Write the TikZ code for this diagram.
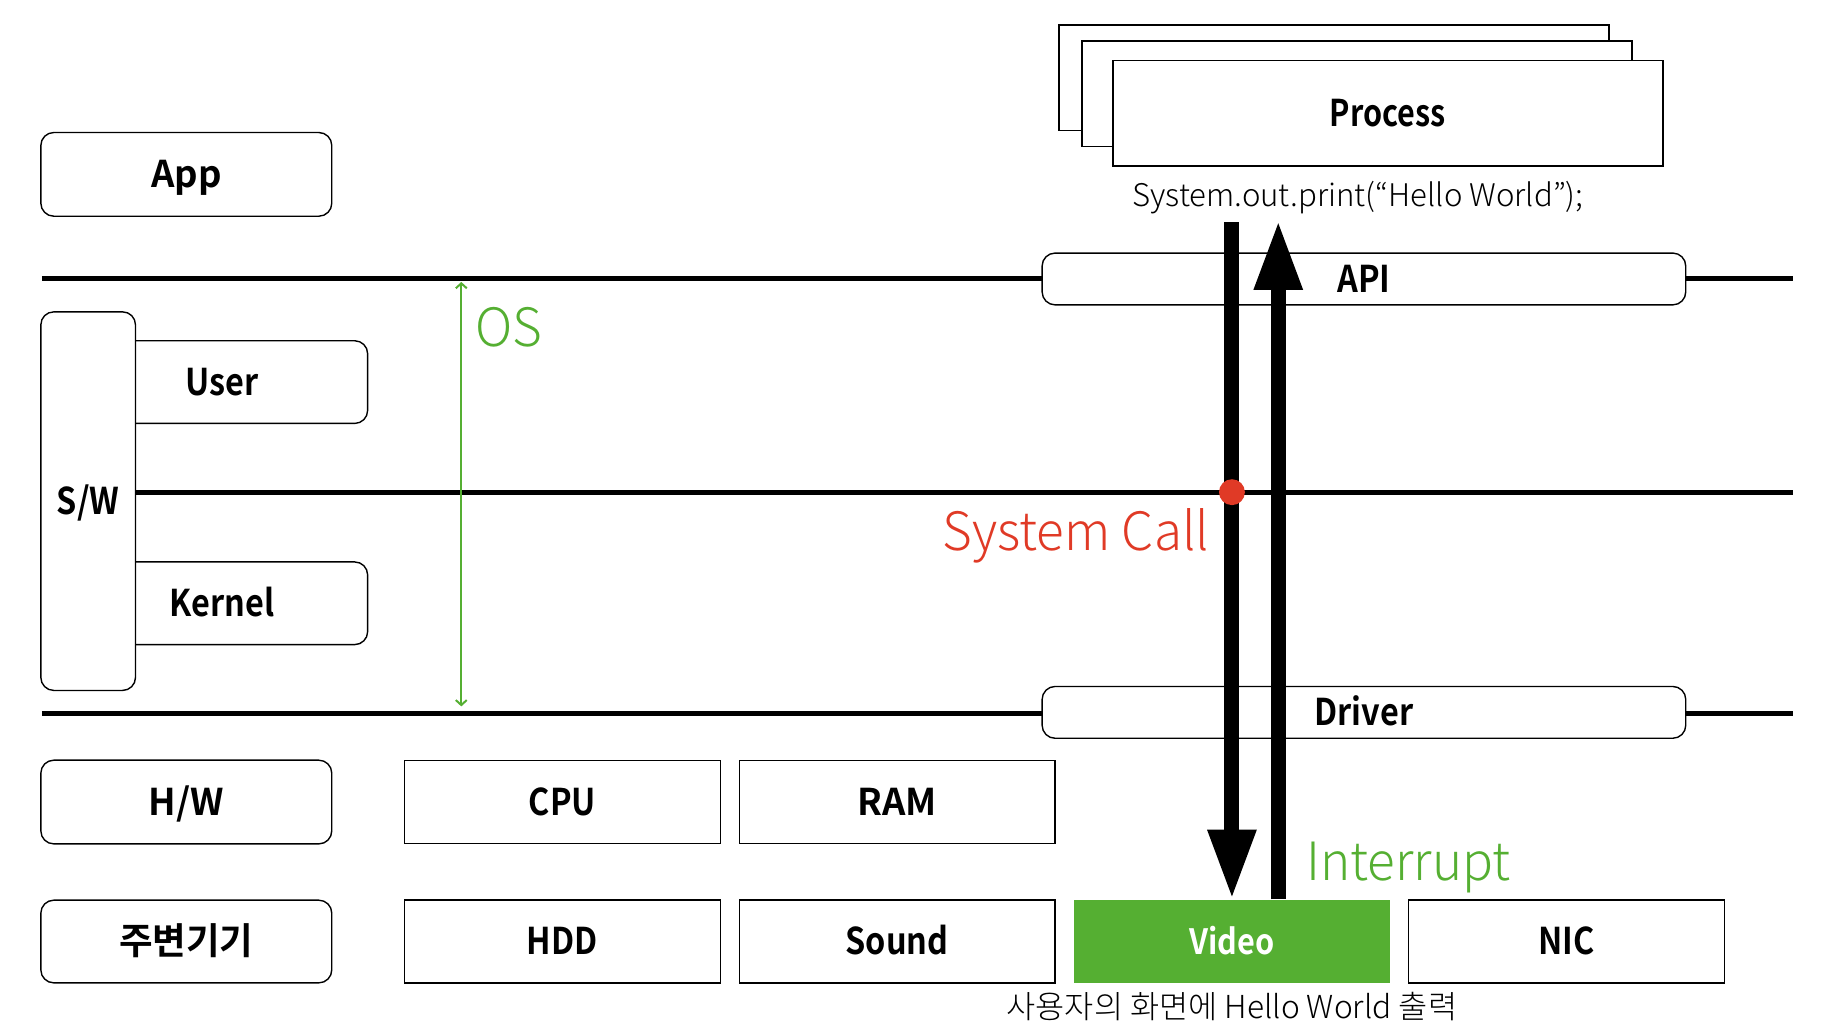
\documentclass[tikz,border=0pt]{standalone}
\usepackage{fontspec}
\setmainfont{Noto Sans CJK KR}
\newfontfamily\lbl{Noto Sans CJK KR Bold}[FakeStretch=0.88]
\newfontfamily\lblw{Noto Sans CJK KR Bold}[FakeStretch=0.99]
\newfontfamily\lbln{Noto Sans CJK KR Bold}[FakeStretch=0.83]
\IfFontExistsTF{Noto Sans CJK KR Light}{%
  \newfontfamily\thinf{Noto Sans CJK KR Light}[FakeStretch=0.97]%
  \newfontfamily\smallf{Noto Sans CJK KR Light}%
}{%
  \newfontfamily\thinf{Noto Sans CJK KR}[FakeStretch=0.93]%
  \newfontfamily\smallf{Noto Sans CJK KR}%
}
\usetikzlibrary{arrows.meta}
\definecolor{vgreen}{RGB}{85,175,50}
\definecolor{scred}{RGB}{224,58,38}
\begin{document}
\begin{tikzpicture}[x=1pt,y=-1pt,
  lblfont/.style={font=\lbl\fontsize{37}{40}\selectfont,text height=27pt,text depth=0pt},
  wide/.style={font=\lblw\fontsize{37}{40}\selectfont},
  narrow/.style={font=\lbln\fontsize{37}{40}\selectfont},
  rbox/.style={draw=black,line width=1.4pt,fill=white,rounded corners=13pt,inner sep=0pt,lblfont},
  sbox/.style={draw=black,line width=1.4pt,fill=white,inner sep=0pt,lblfont,minimum width=317pt,minimum height=83pt},
  pbox/.style={draw=black,line width=1.4pt,fill=white,inner sep=0pt,minimum width=552pt,minimum height=106pt,lblfont},
  layer/.style={line width=5pt},
  bigthin/.style={font=\thinf\fontsize{53}{60}\selectfont,inner sep=0pt},
  smallthin/.style={font=\smallf\fontsize{31.3}{36}\selectfont,inner sep=0pt},
  shaft/.style={line width=15pt},
]
\useasboundingbox (0,0) rectangle (1838.8,1039.8);

% layer lines (top and bottom)
\coordinate (l1a) at (42,280);
\coordinate (l1b) at (1800,280);
\coordinate (l3a) at (42,716);
\coordinate (l3b) at (1800,716);
\coordinate (l2b) at (1800,494);
\draw[layer] (l1a) -- (l1b);
\draw[layer] (l3a) -- (l3b);

% left column
\node[rbox,wide,minimum width=292pt,minimum height=84pt] (app) at (187,175) {App};
\node[rbox,minimum width=292pt,minimum height=83pt] (user) at (223,383.5) {User};
\node[rbox,minimum width=292pt,minimum height=83pt] (kernel) at (223,605.5) {Kernel};
\node[rbox,minimum width=95pt,minimum height=380pt] (sw) at (88.5,503) {S/W};
\draw[layer] (sw.east |- l2b) -- (l2b);
\node[rbox,wide,minimum width=292pt,minimum height=84pt] (hw) at (187,805) {H/W};
\node[rbox,wide,minimum width=292pt,minimum height=83pt] (periph) at (187,945) {주변기기};

% hardware boxes
\node[sbox] (cpu) at (564.5,805) {CPU};
\node[sbox,wide] (ram) at (900.5,805) {RAM};
\node[sbox] (hdd) at (564.5,945) {HDD};
\node[sbox] (sound) at (900.5,945) {Sound};
\node[sbox,draw=none,fill=vgreen,text=white,font=\lbl\fontsize{35}{40}\selectfont,text height=25.5pt] (video) at (1236.5,945) {Video};
\node[sbox] (nic) at (1572.5,945) {NIC};

% API and Driver
\node[rbox,minimum width=646pt,minimum height=52pt] (api) at (1369,280) {API};
\node[rbox,minimum width=646pt,minimum height=52pt] (driver) at (1369,715) {Driver};

% process stack
\node[pbox] (p1) at (1339,78) {};
\node[pbox] (p2) at (1362,94) {};
\node[pbox,narrow] (p3) at (1393,113.5) {Process};
\node[smallthin,anchor=base] (sop) at (1363,207) {System.out.print(“Hello World”);};

% OS span
\coordinate (ostop) at (463,283);
\coordinate (osbot) at (463,709);
\draw[vgreen,line width=2pt,{Straight Barb[length=5pt,width=11pt]}-{Straight Barb[length=5pt,width=11pt]}] (ostop) -- (osbot);
\node[bigthin,anchor=base west,text=vgreen] (os) at (477,348) {OS};

% system call / interrupt arrows
\coordinate (dtop) at (1236.5,223);
\coordinate (utop) at (1283,221);
\draw[shaft,-{Triangle[width=45pt,length=70pt]}] (dtop) -- (dtop |- video.north);
\draw[shaft,-{Triangle[width=45pt,length=70pt]}] (utop |- video.north) -- (utop);
\node[circle,fill=scred,minimum size=26pt,inner sep=0pt] (dot) at (1236.5,494) {};
\node[bigthin,anchor=base east,text=scred] (sc) at (1214,552.5) {System Call};
\node[bigthin,anchor=base west,text=vgreen] (intr) at (1311,883.5) {Interrupt};

\node[smallthin,anchor=base,font=\smallf\fontsize{31.8}{36}\selectfont] (out) at (1236.5,1022.5) {사용자의 화면에 Hello World 출력};
\end{tikzpicture}
\end{document}
